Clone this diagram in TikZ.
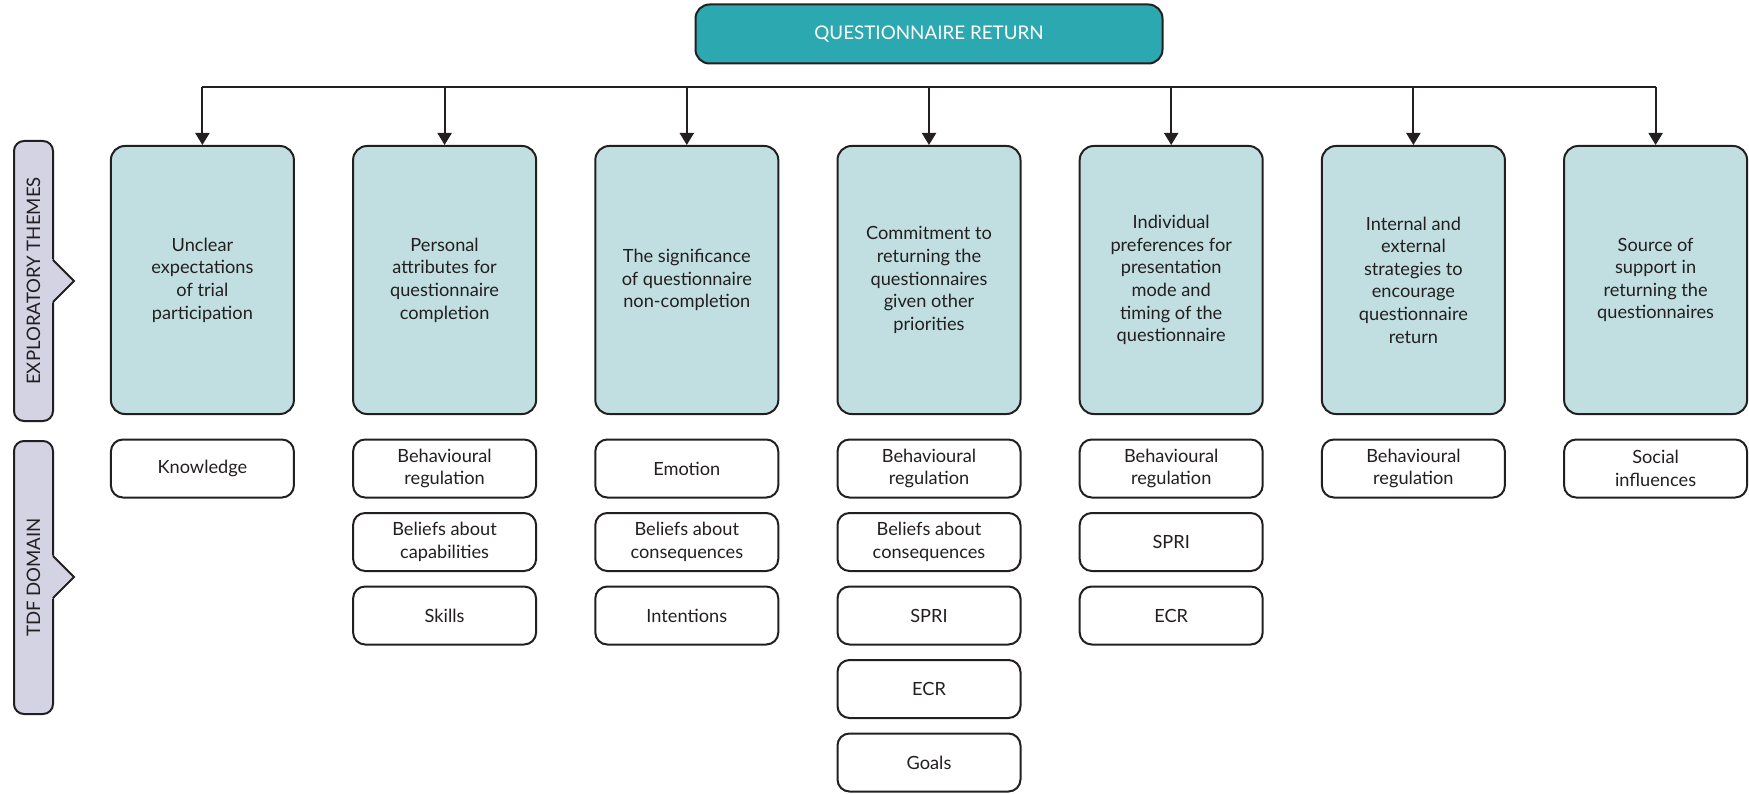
\documentclass[tikz,border=0pt]{standalone}
\usepackage{fontspec}
\setmainfont{Lato}
\usetikzlibrary{arrows.meta}
\definecolor{topc}{HTML}{2CA9B0}
\definecolor{themec}{HTML}{C1DFE1}
\definecolor{sidec}{HTML}{D3D3E4}
\definecolor{bordc}{HTML}{231F20}
\begin{document}
\begin{tikzpicture}[x=1pt,y=-1pt,
 base/.style={draw=bordc, line width=2pt, align=center, inner sep=0pt, text=bordc},
 topbox/.style={base, fill=topc, rounded corners=14pt, minimum width=467pt, minimum height=59pt, text=white, font=\fontsize{18.8}{23}\selectfont},
 theme/.style={base, fill=themec, rounded corners=14pt, minimum width=183pt, minimum height=268pt, font=\fontsize{18.2}{22.6}\selectfont},
 dom/.style={base, fill=white, rounded corners=12pt, minimum width=183pt, minimum height=58pt, font=\fontsize{18.2}{22.6}\selectfont},
 side/.style={base, fill=sidec, rounded corners=10pt, rotate=90, minimum height=39pt, font=\fontsize{18.6}{22.6}\selectfont},
 conn/.style={draw=bordc, line width=2pt},
 arr/.style={conn, -{Triangle[width=14pt,length=12pt]}}]
\useasboundingbox (0,0) rectangle (1749,794);

% side labels
\node[side, minimum width=280pt] (s1) at (33.5,281) {EXPLORATORY THEMES};
\fill[sidec] (52,259) -- (74,281) -- (52,303) -- cycle;
\draw[conn, line join=miter] (53,260) -- (74,281) -- (53,302);
\node[side, minimum width=273pt] (s2) at (33.5,577.5) {TDF DOMAIN};
\fill[sidec] (52,555) -- (74,577) -- (52,599) -- cycle;
\draw[conn, line join=miter] (53,556) -- (74,577) -- (53,598);

% top
\node[topbox] (top) at (929,34) {QUESTIONNAIRE RETURN};
\coordinate (bar) at (929,87);

% themes
\node[theme] (t1) at (202.4,280) {Unclear\\expectations\\of trial\\participation};
\node[theme] (t2) at (444.6,280) {Personal\\attributes for\\questionnaire\\completion};
\node[theme] (t3) at (686.8,280) {The significance\\of questionnaire\\non-completion};
\node[theme] (t4) at (929,280) {Commitment to\\returning the\\questionnaires\\given other\\priorities};
\node[theme] (t5) at (1171.2,280) {Individual\\preferences for\\presentation\\mode and\\timing of the\\questionnaire};
\node[theme] (t6) at (1413.4,280) {Internal and\\external\\strategies to\\encourage\\questionnaire\\return};
\node[theme] (t7) at (1655.6,280) {Source of\\support in\\returning the\\questionnaires};

% connectors
\draw[conn] (t1.north |- bar) -- (t7.north |- bar);
\foreach \i in {1,...,7}{\draw[arr] (t\i.north |- bar) -- (t\i.north);}

% domains
\node[dom] (d11) at (202.4,468.5) {Knowledge};

\node[dom] (d21) at (444.6,468.5) {Behavioural\\regulation};
\node[dom] (d22) at (444.6,542) {Beliefs about\\capabilities};
\node[dom] (d23) at (444.6,615.5) {Skills};

\node[dom] (d31) at (686.8,468.5) {Emotion};
\node[dom] (d32) at (686.8,542) {Beliefs about\\consequences};
\node[dom] (d33) at (686.8,615.5) {Intentions};

\node[dom] (d41) at (929,468.5) {Behavioural\\regulation};
\node[dom] (d42) at (929,542) {Beliefs about\\consequences};
\node[dom] (d43) at (929,615.5) {SPRI};
\node[dom] (d44) at (929,689) {ECR};
\node[dom] (d45) at (929,762.5) {Goals};

\node[dom] (d51) at (1171.2,468.5) {Behavioural\\regulation};
\node[dom] (d52) at (1171.2,542) {SPRI};
\node[dom] (d53) at (1171.2,615.5) {ECR};

\node[dom] (d61) at (1413.4,468.5) {Behavioural\\regulation};

\node[dom] (d71) at (1655.6,468.5) {Social\\influences};
\end{tikzpicture}
\end{document}
